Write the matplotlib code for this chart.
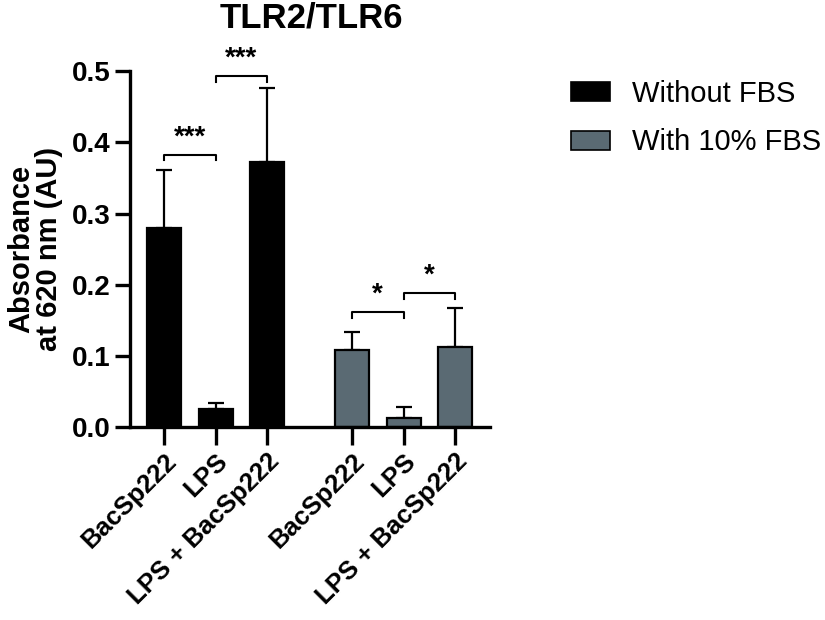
import matplotlib
matplotlib.use("Agg")
import matplotlib.pyplot as plt
from matplotlib.patches import Patch

plt.rcParams['font.family'] = ['Liberation Sans', 'DejaVu Sans']

categories = ["BacSp222", "LPS", "LPS + BacSp222", "BacSp222", "LPS", "LPS + BacSp222"]
groups = ["Without FBS", "With 10% FBS"]
values_without = [0.280, 0.025, 0.372]
err_without = [0.081, 0.009, 0.104]
values_with = [0.108, 0.013, 0.113]
err_with = [0.026, 0.015, 0.055]
# significance brackets: (left bar index, right bar index, height, label)
sig = [(0, 1, 0.383, "***"), (1, 2, 0.493, "***"), (3, 4, 0.162, "*"), (4, 5, 0.188, "*")]

pos = [0, 1, 2, 3.65, 4.65, 5.65]
vals = values_without + values_with
errs = err_without + err_with
colors = ["#000000"] * 3 + ["#5a6a73"] * 3

fig = plt.figure(figsize=(8.25, 6.2), dpi=100)
ax = fig.add_axes([0.1576, 0.311, 0.4364, 0.574])

ax.bar(pos, vals, width=0.66, color=colors, edgecolor="black", linewidth=1.6, zorder=2)
ax.errorbar(pos, vals, yerr=[[0] * 6, errs], fmt="none", ecolor="black",
            elinewidth=1.6, capsize=6, capthick=1.6, zorder=1)

for i, j, h, lab in sig:
    x1, x2 = pos[i], pos[j]
    ax.plot([x1, x1, x2, x2], [h - 0.008, h, h, h - 0.008], color="black", lw=1.5, clip_on=False)
    ax.text((x1 + x2) / 2, h + 0.006, lab, ha="center", va="bottom", fontsize=20, fontweight="bold")

ax.set_xlim(-0.66, 6.33)
ax.set_ylim(0, 0.5)
ax.set_yticks([0, 0.1, 0.2, 0.3, 0.4, 0.5])
ax.set_yticklabels(["0.0", "0.1", "0.2", "0.3", "0.4", "0.5"], fontsize=20, fontweight="bold")
ax.set_xticks(pos)
ax.set_xticklabels(categories, rotation=45, ha="right", rotation_mode="anchor",
                   fontsize=18.5, fontweight="bold")
ax.tick_params(axis="y", length=11, width=2.4, pad=3)
ax.tick_params(axis="x", length=13, width=2.4, pad=3)
for s in ["top", "right"]:
    ax.spines[s].set_visible(False)
for s in ["left", "bottom"]:
    ax.spines[s].set_linewidth(2.4)

ax.set_ylabel("Absorbance\nat 620 nm (AU)", fontsize=21, fontweight="bold", labelpad=6,
              linespacing=1.0)
fig.text(0.378, 1 - 27 / 620, "TLR2/TLR6", fontsize=25, fontweight="bold",
         ha="center", va="baseline")

handles = [Patch(facecolor="#000000", edgecolor="black", linewidth=1.2),
           Patch(facecolor="#5a6a73", edgecolor="black", linewidth=1.2)]
fig.legend(handles, groups, loc="upper left", bbox_to_anchor=(571 / 825, 1 - 80 / 620),
           frameon=False, fontsize=21, handlelength=1.35, handleheight=0.62,
           handletextpad=0.75, labelspacing=0.7, borderpad=0, borderaxespad=0)

fig.savefig("out.png", dpi=100)
